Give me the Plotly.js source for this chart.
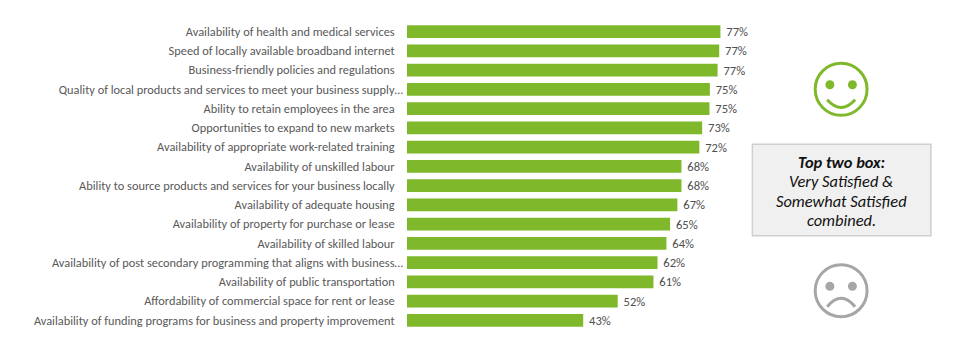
<!DOCTYPE html>
<html><head><meta charset="utf-8">
<script src="https://cdn.plot.ly/plotly-3.0.1.min.js"></script>
<style>html,body{margin:0;padding:0;background:#fff}#c{width:960px;height:352px}</style>
</head><body><div id="c"></div>
<script>
const categories = [
 "Availability of health and medical services",
 "Speed of locally available broadband internet",
 "Business-friendly policies and regulations",
 "Quality of local products and services to meet your business supply…",
 "Ability to retain employees in the area",
 "Opportunities to expand to new markets",
 "Availability of appropriate work-related training",
 "Availability of unskilled labour",
 "Ability to source products and services for your business locally",
 "Availability of adequate housing",
 "Availability of property for purchase or lease",
 "Availability of skilled labour",
 "Availability of post secondary programming that aligns with business…",
 "Availability of public transportation",
 "Affordability of commercial space for rent or lease",
 "Availability of funding programs for business and property improvement"];
const values = [77.2,76.9,76.5,74.6,74.5,72.7,72.0,67.6,67.6,66.6,64.8,63.9,61.7,60.7,51.9,43.4];
const valueLabels = ["77%","77%","77%","75%","75%","73%","72%","68%","68%","67%","65%","64%","62%","61%","52%","43%"];
const tickLabels = categories.map(c => c.endsWith("…") ? c : c + "\u00A0\u00A0\u00A0");
const barLabels = valueLabels.map(t => "\u00A0" + t);
const FONT = "Carlito, Calibri, 'Open Sans', 'Noto Sans', sans-serif";
const green = "#7fb82a", grey = "#a6a6a6";
const M = {l:406.5, r:146.5, t:22, b:22};
const W = 960, H = 352;
const px = (x) => (x - M.l) / (W - M.l - M.r);
const py = (y) => 1 - (y - M.t) / (H - M.t - M.b);
function face(cx, cy, col, happy){
  const r = 26, er = 4.5, ey = cy - 4.5, s = [];
  s.push({type:"circle",xref:"paper",yref:"paper",x0:px(cx-r),x1:px(cx+r),y0:py(cy+r),y1:py(cy-r),line:{color:col,width:3},fillcolor:"rgba(0,0,0,0)"});
  for (const dx of [-11.3,11.3]) s.push({type:"circle",xref:"paper",yref:"paper",x0:px(cx+dx-er),x1:px(cx+dx+er),y0:py(ey+er),y1:py(ey-er),line:{width:0},fillcolor:col});
  const P=(x,y)=>`${px(x)} ${py(y)}`;
  const path = happy ? `M ${P(cx-14,cy+10.5)} Q ${P(cx,cy+26)} ${P(cx+14,cy+10.5)}`
                     : `M ${P(cx-14,cy+16)} Q ${P(cx,cy-1)} ${P(cx+14,cy+16)}`;
  s.push({type:"path",xref:"paper",yref:"paper",path,line:{color:col,width:3}});
  return s;
}
const shapes = [
  ...face(841.7,89.3,green,true),
  ...face(841.7,290.7,grey,false),
  {type:"rect",xref:"paper",yref:"paper",x0:px(752.7),x1:px(931.7),y0:py(235.7),y1:py(144.3),fillcolor:"#f0f0f0",line:{color:"#cfcfcf",width:1.5}}
];
const boxLines = ["<b>Top two box:</b>","Very Satisfied &","Somewhat Satisfied","combined."];
const annotations = boxLines.map((t,i)=>({xref:"paper",yref:"paper",x:px(841.7),y:py(161.7+i*19.6),text:"<i>"+t+"</i>",showarrow:false,xanchor:"center",yanchor:"middle",font:{family:FONT,size:16.4,color:"#111"}}));
Plotly.newPlot("c",[{
  type:"bar",orientation:"h",y:categories,x:values,text:barLabels,textposition:"outside",cliponaxis:false,constraintext:"none",
  textfont:{family:FONT,size:12.6,color:"#4f4f4f"},marker:{color:green},width:0.66,hoverinfo:"skip"
}],{
  width:W,height:H,paper_bgcolor:"#fff",plot_bgcolor:"#fff",showlegend:false,
  margin:M,
  xaxis:{range:[0,100],visible:false,fixedrange:true},
  yaxis:{type:"category",autorange:false,range:[15.5,-0.5],categoryorder:"array",categoryarray:categories,tickmode:"array",tickvals:categories,ticktext:tickLabels,
    showline:false,ticks:"",ticklen:0,ticklabelstandoff:3,tickfont:{family:FONT,size:12.35,color:"#595959"},automargin:false,fixedrange:true},
  shapes,annotations
},{displayModeBar:false,staticPlot:true});
</script></body></html>
